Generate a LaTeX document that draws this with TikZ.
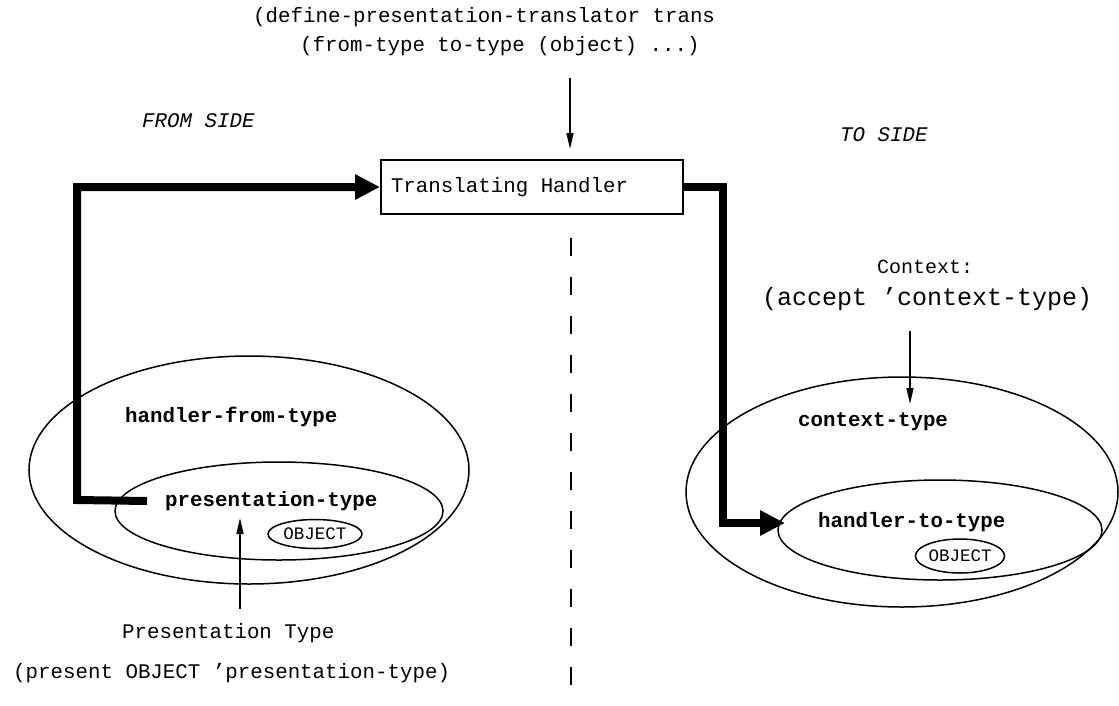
\documentclass[tikz,border=0pt]{standalone}
\usepackage{fontspec}
\newfontfamily\cour{Liberation Mono}
\usetikzlibrary{arrows.meta,shapes.geometric}
\tikzset{
  txt/.style={inner sep=0pt, anchor=west, font=\cour\fontsize{20.8}{24}\selectfont},
  btxt/.style={inner sep=0pt, anchor=west, font=\cour\bfseries\fontsize{20.8}{24}\selectfont},
  itxt/.style={inner sep=0pt, anchor=west, font=\cour\itshape\fontsize{20.8}{24}\selectfont},
  ell/.style={draw, ellipse, line width=1.5pt, inner sep=0pt},
  objell/.style={ell, font=\cour\fontsize{17.5}{20}\selectfont},
  handlerbox/.style={draw, line width=2pt, minimum height=54pt, minimum width=302pt,
     inner xsep=10pt, font=\cour\fontsize{20.8}{24}\selectfont},
  bigconn/.style={line width=8pt, line join=miter, -{Triangle[length=25pt,width=24pt]}},
  thinconn/.style={line width=1.5pt, -{Triangle[length=16pt,width=7pt]}},
  divider/.style={line width=1.5pt, dash pattern=on 18pt off 21pt}
}
\begin{document}
\begin{tikzpicture}[x=1pt,y=-1pt]
\useasboundingbox (0,0) rectangle (1119,705);
% top text
\node[txt] (def1) at (253,17) {(define-presentation-translator trans};
\node[txt] (def2) at (300,46) {(from-type to-type (object) ...)};
\node[itxt] (fromside) at (142,121) {FROM SIDE};
\node[itxt] (toside) at (840,135) {TO SIDE};
% handler box
\node[handlerbox] (trans) at (532,187) {\makebox[282pt][l]{Translating Handler}};
% left ellipses
\node[ell, minimum width=440pt, minimum height=228pt] (outerL) at (249,470) {};
\node[ell, minimum width=328pt, minimum height=98pt] (innerL) at (279,511) {};
\node[objell, minimum width=94pt, minimum height=29pt] (objL) at (315,534) {OBJECT};
\node[btxt] (hft) at (125,417) {handler-from-type};
\node[btxt] (ptl) at (165,501) {presentation-type};
\node[txt] (ptype) at (122,633) {Presentation Type};
\node[txt] (present) at (13,673) {(present OBJECT ’presentation-type)};
% right ellipses
\node[ell, minimum width=432pt, minimum height=230pt] (outerR) at (902,492) {};
\node[ell, minimum width=324pt, minimum height=100pt] (innerR) at (940,530) {};
\node[objell, minimum width=86pt, minimum height=34pt] (objR) at (960,556) {OBJECT};
\node[btxt] (ctl) at (798,422) {context-type};
\node[btxt] (htt) at (818,522) {handler-to-type};
\node[txt, font=\cour\fontsize{20}{24}\selectfont] (context) at (877,267) {Context:};
\node[txt, font=\cour\fontsize{25}{28}\selectfont] (accept) at (762,299) {(accept ’context-type)};
% coordinates
\coordinate (topa) at (570,78);
\coordinate (c1) at (77,500);
\coordinate (c2) at (723,523);
\coordinate (tgtR) at (785,523);
\coordinate (pa1) at (240,609);
\coordinate (pa2) at (240,518);
\coordinate (ca1) at (910,331);
\coordinate (ca2) at (910,404);
\coordinate (d1) at (571,238);
\coordinate (d2) at (571,705);
% connectors
\draw[thinconn, shorten >=10pt] (topa) -- (trans.north -| topa);
\draw[bigconn] ([xshift=-18pt]ptl.west) -- (c1) |- (trans.west);
\draw[bigconn] (trans.east) -| (c2) -- (tgtR);
\draw[thinconn] (pa1) -- (pa2);
\draw[thinconn] (ca1) -- (ca2);
\draw[divider] (d1) -- (d2);
\end{tikzpicture}
\end{document}
